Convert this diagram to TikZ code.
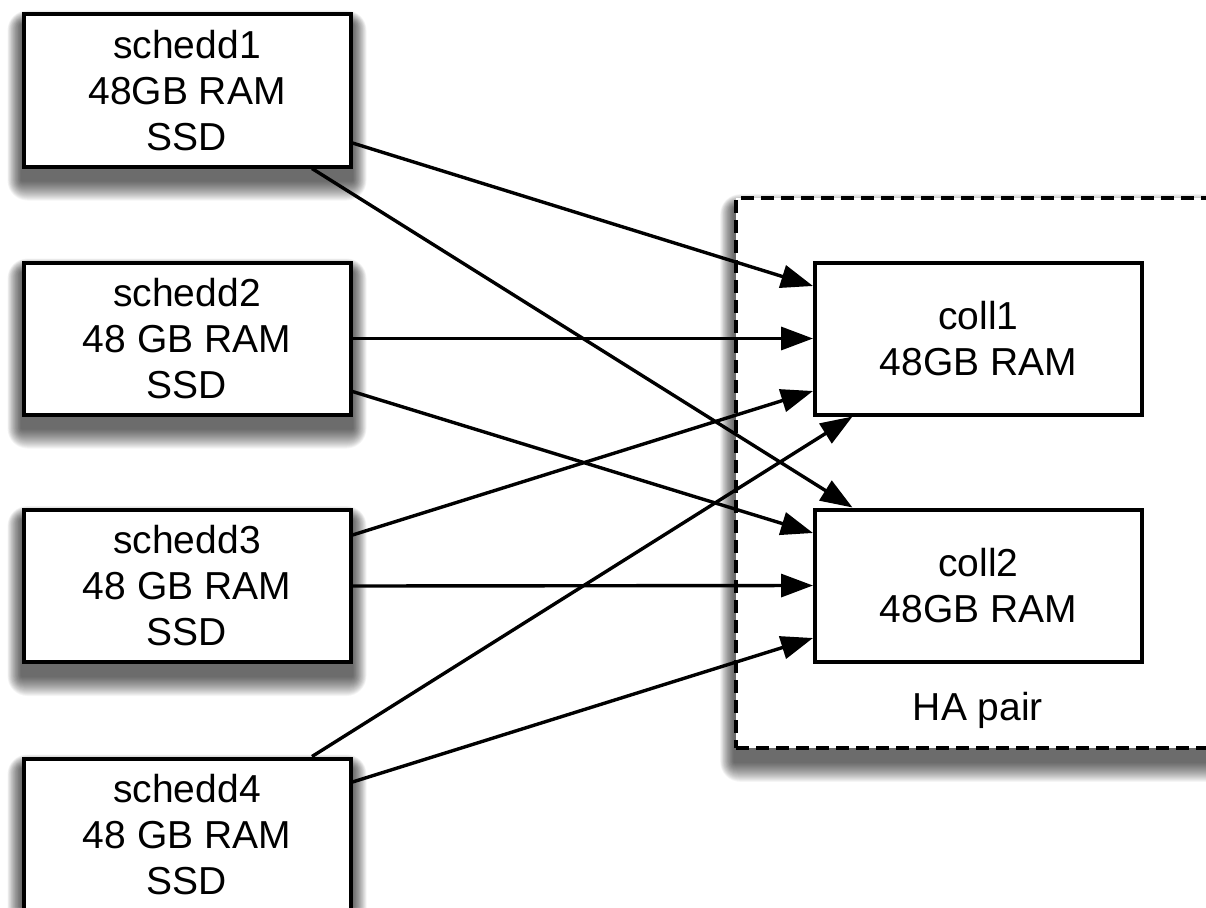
\documentclass[tikz,border=0pt]{standalone}
\usepackage{fontspec}
\setmainfont{Liberation Sans}
\usetikzlibrary{arrows.meta}
\pgfdeclarelayer{paper}
\pgfdeclarelayer{gshadow}
\pgfdeclarelayer{grouplayer}
\pgfdeclarelayer{bshadow}
\pgfsetlayers{paper,gshadow,grouplayer,bshadow,main}
\newcommand\softshadow[1]{%
  \foreach \e in {1,...,20}{%
    \fill[black,opacity=0.04,rounded corners=\e pt]
      ([xshift=-0.7*\e pt,yshift=-12pt+0.7*\e pt]#1.north west) rectangle
      ([xshift=0.7*\e pt,yshift=-12pt-\e pt]#1.south east);}}
\begin{document}
\begin{tikzpicture}[x=1pt,y=-1pt,
  srv/.style={draw,line width=4pt,fill=white,minimum width=327pt,minimum height=152pt,inner sep=0pt,
    align=center,font=\fontsize{39}{46}\selectfont},
  hagroup/.style={draw,line width=3.6pt,dash pattern=on 13pt off 7pt,fill=white,minimum width=494pt,minimum height=550pt,inner sep=0pt},
  link/.style={line width=3.4pt,draw=black,-{Triangle[length=32pt,width=23pt,fill=black]}}]
\useasboundingbox (0,0) rectangle (1206,907);
\clip (0,0) rectangle (1206,907);
\begin{pgfonlayer}{paper}
\fill[white] (0,0) rectangle (1206,907);
\end{pgfonlayer}
% HA pair group
\begin{pgfonlayer}{grouplayer}
\node[hagroup] (ha) at (983,473) {};
\end{pgfonlayer}
\begin{pgfonlayer}{gshadow}
\softshadow{ha}
\end{pgfonlayer}
\node[font=\fontsize{39}{46}\selectfont] (halabel) at (978,710) {HA pair};
% nodes
\node[srv] (s1) at (187,90.5) {schedd1\\48GB RAM\\SSD};
\node[srv] (s2) at (187,338.5) {schedd2\\48 GB RAM\\SSD};
\node[srv] (s3) at (187,586) {schedd3\\48 GB RAM\\SSD};
\node[srv] (s4) at (187,834.5) {schedd4\\48 GB RAM\\SSD};
\node[srv] (c1) at (978.5,338.5) {coll1\\48GB RAM};
\node[srv] (c2) at (978.5,585.5) {coll2\\48GB RAM};
\begin{pgfonlayer}{bshadow}
\softshadow{s1}\softshadow{s2}\softshadow{s3}\softshadow{s4}
\end{pgfonlayer}
% links
\draw[link] ([yshift=-52.5pt]s1.east) -- ([yshift=52.5pt]c1.west);
\draw[link] ([xshift=125pt]s1.south) -- ([xshift=-126pt]c2.north);
\draw[link] (s2.east) -- (c1.west);
\draw[link] ([yshift=-53pt]s2.east) -- ([yshift=52.5pt]c2.west);
\draw[link] ([yshift=51pt]s3.east) -- ([yshift=-52.5pt]c1.west);
\draw[link] (s3.east) -- (c2.west);
\draw[link] ([xshift=125pt]s4.north) -- ([xshift=-126pt]c1.south);
\draw[link] ([yshift=52.5pt]s4.east) -- ([yshift=-52.5pt]c2.west);
\end{tikzpicture}
\end{document}
